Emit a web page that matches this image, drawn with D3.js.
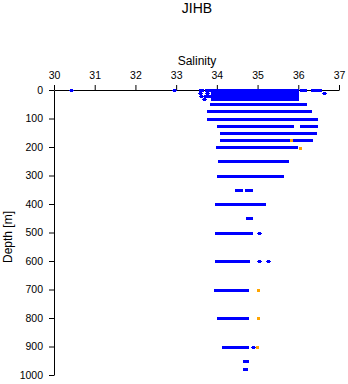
<!DOCTYPE html>
<html>
<head>
<meta charset="utf-8">
<script src="https://cdn.jsdelivr.net/npm/d3@7/dist/d3.min.js"></script>
<style>
  html, body { margin: 0; padding: 0; background: #fff; }
  svg { display: block; font-family: "Liberation Sans", Arial, sans-serif; }
</style>
</head>
<body>
<svg id="chart" width="348" height="384"></svg>
<script>
// Station JIHB: salinity observations by standard depth
const title = "JIHB";
const xLabel = "Salinity";
const yLabel = "Depth [m]";
const salinityTicks = [30, 31, 32, 33, 34, 35, 36, 37];
const depthTicks = [0, 100, 200, 300, 400, 500, 600, 700, 800, 900, 1000];

// Dense runs of observations at each depth: [depth, salinity from, salinity to]
const runs = [
  [0, 33.88, 36.00], [10, 33.88, 36.00], [20, 33.85, 36.00], [30, 33.88, 36.00],
  [0, 33.59, 33.66], [0, 33.74, 33.83],
  [0, 36.07, 36.20], [0, 36.33, 36.57],
  [50, 33.85, 36.02], [50, 36.07, 36.18],
  [75, 33.79, 34.05], [75, 34.08, 35.94], [75, 35.97, 36.31],
  [100, 33.78, 33.91], [100, 33.94, 35.94], [100, 36.00, 36.45],
  [125, 34.02, 35.88], [125, 36.07, 36.47],
  [150, 34.10, 34.18], [150, 34.21, 36.44],
  [175, 34.10, 35.72], [175, 35.75, 36.33],
  [200, 34.00, 35.96],
  [250, 34.05, 35.62], [250, 35.68, 35.74],
  [300, 34.03, 35.37], [300, 35.41, 35.55], [300, 35.59, 35.62],
  [350, 34.47, 34.62], [350, 34.72, 34.86],
  [400, 33.98, 34.96], [400, 35.00, 35.19],
  [450, 34.74, 34.86],
  [500, 33.98, 34.86],
  [600, 33.98, 34.78],
  [700, 33.95, 34.76],
  [800, 34.04, 34.76],
  [900, 34.15, 34.76],
  [950, 34.67, 34.76],
  [980, 34.67, 34.74]
];

// Single observations: [depth, salinity]
const singles = [
  [0, 30.42], [0, 32.96],
  [10, 33.60], [10, 33.78], [10, 36.65],
  [20, 33.63], [20, 33.72], [20, 33.80],
  [30, 33.70],
  [500, 35.04],
  [600, 35.04], [600, 35.26],
  [900, 34.90]
];

// Flagged observations: [depth, salinity]
const flagged = [
  [175, 35.83], [203, 36.05],
  [700, 35.02], [800, 35.02], [900, 35.00]
];

const svg = d3.select("#chart");

const x = d3.scaleLinear().domain([30, 37]).range([54, 339]);
const y = d3.scaleLinear().domain([0, 1000]).range([90, 375]);

// Title and axis labels
svg.append("text")
  .attr("x", 197).attr("y", 13)
  .attr("text-anchor", "middle")
  .attr("font-size", 14)
  .text(title);

svg.append("text")
  .attr("x", 197).attr("y", 65)
  .attr("text-anchor", "middle")
  .attr("font-size", 12)
  .text(xLabel);

svg.append("text")
  .attr("transform", "translate(11.5,237) rotate(-90)")
  .attr("text-anchor", "middle")
  .attr("font-size", 12)
  .text(yLabel);

// Axes
const xAxis = svg.append("g")
  .attr("transform", "translate(0,90)")
  .call(d3.axisTop(x).tickValues(salinityTicks).tickFormat(d3.format("d"))
    .tickSize(5).tickSizeOuter(0).tickPadding(6));

const yAxis = svg.append("g")
  .attr("transform", "translate(54,0)")
  .call(d3.axisLeft(y).tickValues(depthTicks).tickFormat(d3.format("d"))
    .tickSize(5).tickSizeOuter(0).tickPadding(6));

[xAxis, yAxis].forEach(g => {
  g.selectAll("text")
    .attr("font-size", 10.5)
    .attr("font-family", "\"Liberation Sans\", Arial, sans-serif")
    .attr("fill", "#000");
  g.selectAll("path, line").attr("stroke", "#000");
});

// Observations
const marks = svg.append("g").attr("shape-rendering", "crispEdges");

marks.selectAll("rect.run")
  .data(runs)
  .join("rect")
  .attr("class", "run")
  .attr("x", d => x(d[1]) - 1)
  .attr("y", d => Math.round(y(d[0])) - 1.5)
  .attr("width", d => x(d[2]) - x(d[1]) + 2)
  .attr("height", 3)
  .attr("fill", "#0000ff");

const plus = marks.selectAll("g.single")
  .data(singles)
  .join("g")
  .attr("class", "single")
  .attr("transform", d => `translate(${x(d[1])},${Math.round(y(d[0]))})`);
plus.append("rect")
  .attr("x", -1.5).attr("y", -1.5).attr("width", 3).attr("height", 3)
  .attr("fill", "#0000ff");
plus.append("rect")
  .attr("x", -2.5).attr("y", -0.5).attr("width", 5).attr("height", 1)
  .attr("fill", "#0000ff");

marks.selectAll("rect.flag")
  .data(flagged)
  .join("rect")
  .attr("class", "flag")
  .attr("x", d => x(d[1]) - 1.5)
  .attr("y", d => Math.round(y(d[0])) - 1.5)
  .attr("width", 3)
  .attr("height", 3)
  .attr("fill", "#ffa500");
</script>
</body>
</html>
